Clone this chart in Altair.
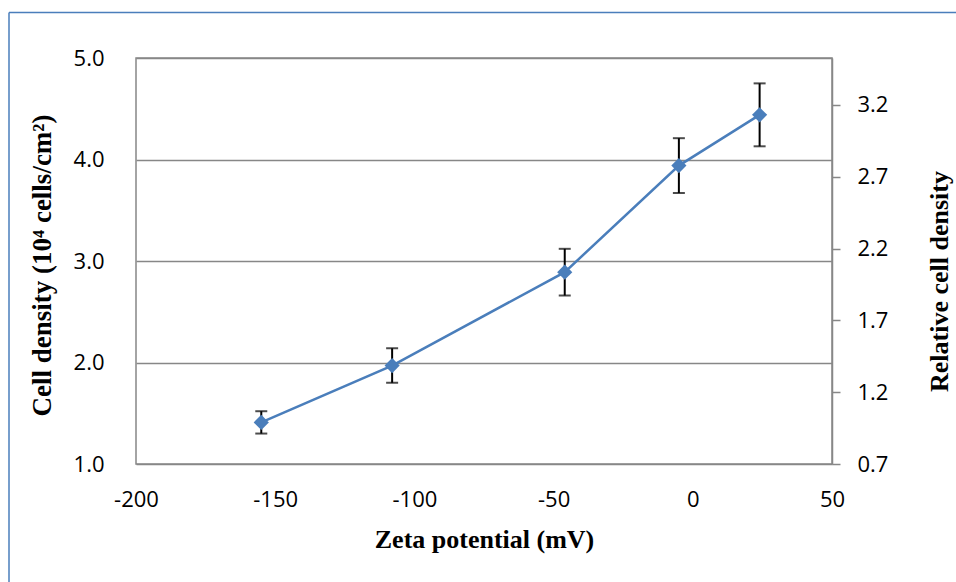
import altair as alt
import pandas as pd

# Data
zeta = [-155, -108, -46, -5, 24]               # mV
density = [1.41, 1.97, 2.89, 3.94, 4.44]       # 10^4 cells/cm^2
err = [0.11, 0.17, 0.23, 0.27, 0.31]
rel_density = [1.00, 1.39, 2.04, 2.79, 3.14]   # relative cell density

x_ticks = [-200, -150, -100, -50, 0, 50]
y_ticks = [1.0, 2.0, 3.0, 4.0, 5.0]
y2_ticks = [0.7, 1.2, 1.7, 2.2, 2.7, 3.2]

df = pd.DataFrame({
    "zeta": zeta,
    "density": density,
    "lo": [d - e for d, e in zip(density, err)],
    "hi": [d + e for d, e in zip(density, err)],
    "rel": rel_density,
})

GRAY = "#878787"
BLUE = "#4A7EBB"
LABEL_FONT = "Open Sans"
TITLE_FONT = "Liberation Serif"

x_enc = alt.X(
    "zeta:Q",
    scale=alt.Scale(domain=[-200, 50], nice=False, zero=False),
    axis=alt.Axis(
        values=x_ticks, ticks=False, domain=False, grid=False,
        labelPadding=25, labelFlush=False, labelOverlap=False,
        labelExpr="datum.value + ''",
        title="Zeta potential (mV)", titleBaseline="alphabetic", titleY=83,
    ),
)

y_scale = alt.Scale(domain=[1, 5], nice=False, zero=False)
y_axis = alt.Axis(
    values=y_ticks, format=".1f", ticks=False, domain=False, grid=True,
    gridColor=GRAY, gridWidth=1.5, gridOpacity=1,
    labelPadding=32, labelOverlap=False,
    title="Cell density (10⁴ cells/cm²)", titleAngle=270, titleFontSize=27,
    titleBaseline="alphabetic", titleX=-86, titleY=207,
)

base = alt.Chart(df)

line = base.mark_line(color=BLUE, strokeWidth=2.5).encode(
    x=x_enc, y=alt.Y("density:Q", scale=y_scale, axis=y_axis)
)

bars = base.mark_rule(color="black", strokeWidth=2).encode(
    x="zeta:Q", y="lo:Q", y2="hi:Q"
)
cap_lo = base.mark_tick(color="black", orient="horizontal", size=12, thickness=2).encode(
    x="zeta:Q", y="lo:Q"
)
cap_hi = base.mark_tick(color="black", orient="horizontal", size=12, thickness=2).encode(
    x="zeta:Q", y="hi:Q"
)
pts = base.mark_point(shape="diamond", filled=True, size=230, color=BLUE, opacity=1).encode(
    x="zeta:Q", y="density:Q"
)

left = alt.layer(line, bars, cap_lo, cap_hi, pts)

right = base.mark_point(opacity=0).encode(
    x="zeta:Q",
    y=alt.Y(
        "rel:Q",
        scale=alt.Scale(domain=[0.7, 3.527], nice=False, zero=False),
        axis=alt.Axis(
            orient="right", values=y2_ticks, format=".1f",
            grid=False, domain=True, domainColor=GRAY, domainWidth=1.5,
            ticks=True, tickColor=GRAY, tickWidth=1.5, tickSize=8,
            labelPadding=17, labelOverlap=False,
            title="Relative cell density", titleAngle=270,
            titleBaseline="alphabetic", titleX=115, titleY=223,
        ),
    ),
)

frame_dummy = pd.DataFrame({"a": [0]})
border_left = alt.Chart(frame_dummy).mark_rule(color=BLUE, strokeWidth=1.5).encode(
    x=alt.value(-127), y=alt.value(-45.5), y2=alt.value(600)
)
border_top = alt.Chart(frame_dummy).mark_rule(color=BLUE, strokeWidth=1.5).encode(
    x=alt.value(-127), x2=alt.value(900), y=alt.value(-45.5)
)

chart = (
    alt.layer(left, right, border_left, border_top)
    .resolve_scale(y="independent")
    .properties(
        width=696, height=406,
        autosize=alt.AutoSizeParams(type="none"),
        padding={"left": 136, "top": 58, "right": 124, "bottom": 118},
        background="white",
    )
    .configure_view(stroke=GRAY, strokeWidth=1.5)
    .configure_axis(
        labelFont=LABEL_FONT, labelFontSize=22, labelColor="black",
        titleFont=TITLE_FONT, titleFontSize=26, titleFontWeight="bold",
        titleColor="black",
    )
)

chart.save("out.html", embed_options={"renderer": "svg", "actions": False})
